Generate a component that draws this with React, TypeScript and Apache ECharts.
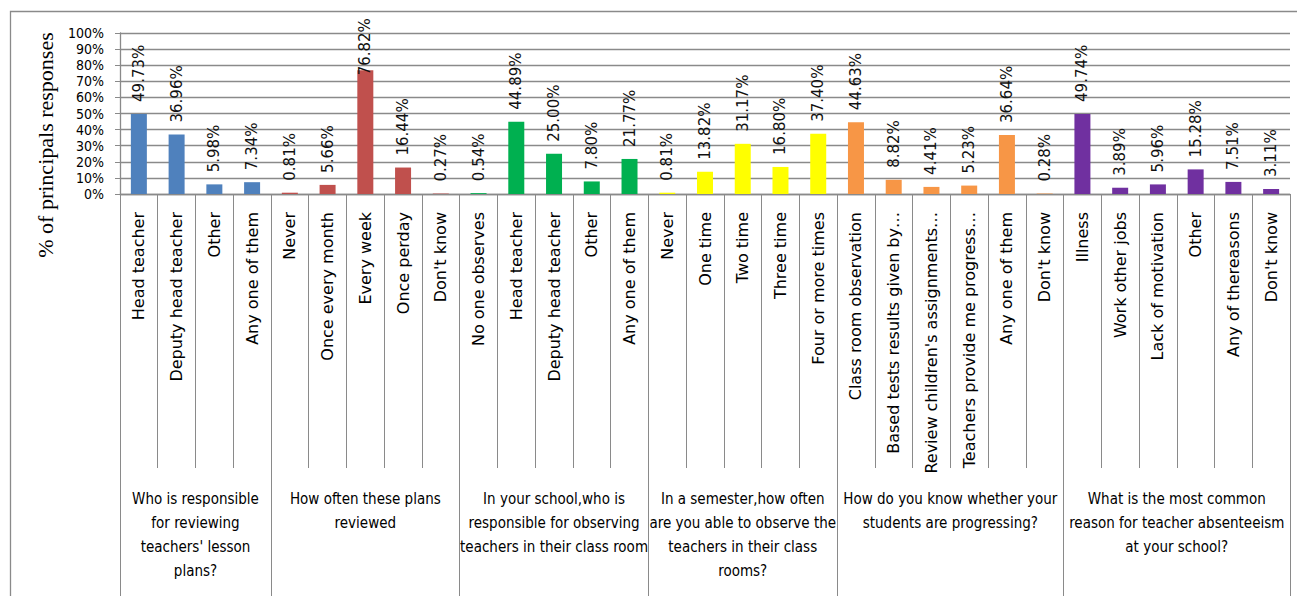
import React, { useEffect, useRef } from "react";
import * as echarts from "echarts";

const categories = [
  "Head teacher", "Deputy head teacher", "Other", "Any one of them",
  "Never", "Once every month", "Every week", "Once perday", "Don't know",
  "No one observes", "Head teacher", "Deputy head teacher", "Other", "Any one of them",
  "Never", "One time", "Two time", "Three time", "Four or more times",
  "Class room observation", "Based tests results given by…", "Review children's assignments…",
  "Teachers provide me progress…", "Any one of them", "Don't know",
  "Illness", "Work other jobs", "Lack of motivation", "Other", "Any of thereasons", "Don't know",
];

const values = [
  49.73, 36.96, 5.98, 7.34,
  0.81, 5.66, 76.82, 16.44, 0.27,
  0.54, 44.89, 25.0, 7.8, 21.77,
  0.81, 13.82, 31.17, 16.8, 37.4,
  44.63, 8.82, 4.41, 5.23, 36.64, 0.28,
  49.74, 3.89, 5.96, 15.28, 7.51, 3.11,
];

const groupSizes = [4, 5, 5, 5, 6, 6];

const groupLabels = [
  "Who is responsible\nfor reviewing\nteachers' lesson\nplans?",
  "How often these plans\nreviewed",
  "In your school,who is\nresponsible for observing\nteachers in their class room",
  "In a semester,how often\nare you able to observe the\nteachers in their class\nrooms?",
  "How do you know whether your\nstudents are progressing?",
  "What is the most common\nreason for teacher absenteeism\nat your school?",
];

const groupColors = ["#4F81BD", "#C0504D", "#00B050", "#FFFF00", "#F79646", "#7030A0"];

const GRAY = "#8a8a8a";
const NARROW = "'Liberation Sans Narrow', 'DejaVu Sans Condensed', 'Arial Narrow', sans-serif";

export default function App() {
  const ref = useRef<HTMLDivElement>(null);

  useEffect(() => {
    const chart = echarts.init(ref.current!, null, { renderer: "svg" });

    // colour of each bar from its group
    const barGroup: number[] = [];
    groupSizes.forEach((n, g) => {
      for (let k = 0; k < n; k++) barGroup.push(g);
    });

    // half-slot axis for group labels / separators
    const boundaries: number[] = [0];
    const labelIdx: number[] = [];
    let acc = 0;
    groupSizes.forEach((n) => {
      const start = acc * 2;
      acc += n;
      const end = acc * 2;
      boundaries.push(end);
      labelIdx.push((start + end) / 2);
    });
    const halfData: string[] = [];
    for (let i = 0; i <= categories.length * 2; i++) {
      const gi = labelIdx.indexOf(i);
      halfData.push(gi >= 0 ? groupLabels[gi] : "");
    }

    const data = values.map((v, i) => {
      const item: any = { value: v, itemStyle: { color: groupColors[barGroup[i]] } };
      if (v > 70) item.label = { distance: -5 };
      return item;
    });

    const option: any = {
      animation: false,
      backgroundColor: "#ffffff",
      grid: { left: 120, right: 7, top: 33, bottom: 402, containLabel: false },
      graphic: [
        {
          type: "rect",
          shape: { x: 10.5, y: 11.5, width: 1400, height: 800 },
          style: { fill: "none", stroke: GRAY, lineWidth: 1.3 },
          silent: true,
          z: -1,
        },
        {
          type: "text",
          x: 45,
          y: 145,
          rotation: Math.PI / 2,
          style: {
            text: "% of principals responses",
            font: "22px 'Liberation Serif', 'Times New Roman', serif",
            fill: "#000",
            textAlign: "center",
            textVerticalAlign: "middle",
          },
        },
      ],
      xAxis: [
        {
          type: "category",
          data: categories,
          position: "bottom",
          boundaryGap: true,
          axisLine: { show: true, lineStyle: { color: GRAY, width: 1.3 } },
          axisTick: { show: true, interval: 0, length: 274, lineStyle: { color: GRAY, width: 1 } },
          axisLabel: {
            interval: 0,
            rotate: 90,
            margin: 18,
            fontSize: 16,
            fontFamily: "'DejaVu Sans', Verdana, sans-serif",
            color: "#000",
          },
          splitLine: { show: false },
        },
        {
          type: "category",
          data: halfData,
          position: "bottom",
          boundaryGap: false,
          axisLine: { show: false },
          axisTick: {
            show: true,
            length: 402,
            interval: (i: number) => boundaries.indexOf(i) >= 0,
            lineStyle: { color: GRAY, width: 1 },
          },
          axisLabel: {
            interval: (i: number) => labelIdx.indexOf(i) >= 0,
            hideOverlap: false,
            margin: 293,
            fontSize: 15,
            lineHeight: 24,
            fontFamily: NARROW,
            color: "#000",
            align: "center",
            verticalAlign: "top",
          },
          splitLine: { show: false },
        },
      ],
      yAxis: {
        type: "value",
        min: 0,
        max: 100,
        interval: 10,
        axisLine: { show: true, lineStyle: { color: GRAY, width: 1.3 } },
        axisTick: { show: true, length: 5, lineStyle: { color: GRAY } },
        axisLabel: {
          formatter: "{value}%",
          margin: 16,
          fontSize: 14,
          fontFamily: NARROW,
          color: "#000",
        },
        splitLine: { show: true, lineStyle: { color: GRAY, width: 1.3 } },
      },
      series: [
        {
          type: "bar",
          xAxisIndex: 0,
          barWidth: 16,
          data,
          label: {
            show: true,
            position: "top",
            rotate: 90,
            align: "left",
            verticalAlign: "middle",
            distance: 12,
            fontSize: 15,
            fontFamily: "'DejaVu Sans', Verdana, sans-serif",
            color: "#111",
            formatter: (p: any) => Number(p.value).toFixed(2) + "%",
          },
        },
      ],
    };

    chart.setOption(option);
    return () => chart.dispose();
  }, []);

  return (
    <div
      ref={ref}
      style={{ position: "fixed", left: 0, top: 0, width: 1297, height: 596, background: "#fff" }}
    />
  );
}
